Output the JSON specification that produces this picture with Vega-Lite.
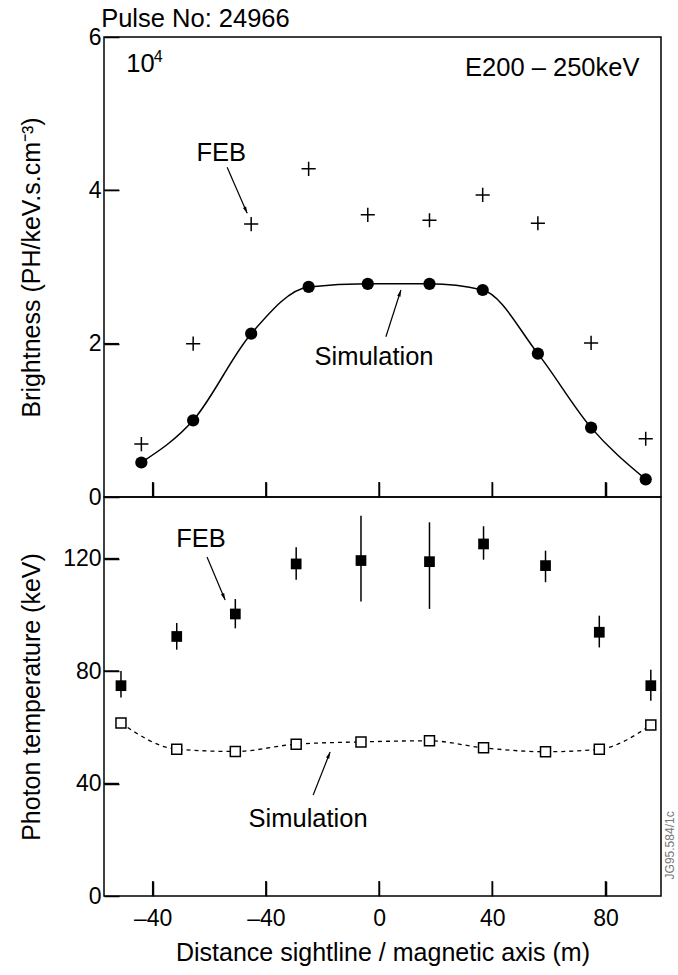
{
  "$schema": "https://vega.github.io/schema/vega-lite/v6.json",
  "background": "white",
  "padding": {"left": 18, "top": 6, "right": 4, "bottom": 4},
  "spacing": 0,
  "bounds": "flush",
  "config": {
    "font": "Liberation Sans",
    "view": {"stroke": "black", "strokeWidth": 1.5},
    "axis": {
      "labelFont": "Liberation Sans",
      "titleFont": "Liberation Sans",
      "labelFontSize": 23,
      "titleFontSize": 25,
      "titleFontWeight": "normal",
      "labelColor": "black",
      "titleColor": "black",
      "ticks": true,
      "tickColor": "black",
      "tickWidth": 1.5,
      "tickSize": 15,
      "offset": -15,
      "grid": false,
      "domain": false
    },
    "text": {"font": "Liberation Sans", "fontSize": 25.5, "color": "black"},
    "rule": {"color": "black", "strokeWidth": 1.5}
  },
  "datasets": {
    "brightness": [
      {"x": -84.0, "sim": 0.45, "feb": 0.69},
      {"x": -65.7, "sim": 1.00, "feb": 2.00},
      {"x": -45.2, "sim": 2.13, "feb": 3.56},
      {"x": -24.9, "sim": 2.74, "feb": 4.28},
      {"x": -4.0, "sim": 2.78, "feb": 3.68},
      {"x": 17.8, "sim": 2.78, "feb": 3.61},
      {"x": 36.6, "sim": 2.70, "feb": 3.94},
      {"x": 56.1, "sim": 1.87, "feb": 3.57},
      {"x": 74.9, "sim": 0.905, "feb": 2.01},
      {"x": 94.2, "sim": 0.23, "feb": 0.76}
    ],
    "temperature": [
      {"x": -91.2, "feb": 74.8, "lo": 70.6, "hi": 80.0, "sim": 61.5},
      {"x": -71.5, "feb": 92.3, "lo": 87.6, "hi": 97.1, "sim": 52.2},
      {"x": -50.8, "feb": 100.3, "lo": 95.2, "hi": 105.6, "sim": 51.4},
      {"x": -29.3, "feb": 118.1, "lo": 112.5, "hi": 124.0, "sim": 54.0},
      {"x": -6.4, "feb": 119.3, "lo": 104.7, "hi": 135.2, "sim": 54.8},
      {"x": 17.8, "feb": 118.9, "lo": 102.1, "hi": 132.9, "sim": 55.2},
      {"x": 36.9, "feb": 125.2, "lo": 119.6, "hi": 131.5, "sim": 52.7},
      {"x": 58.8, "feb": 117.5, "lo": 111.6, "hi": 122.8, "sim": 51.3},
      {"x": 77.8, "feb": 93.8, "lo": 88.4, "hi": 99.7, "sim": 52.2},
      {"x": 96.0, "feb": 74.8, "lo": 69.4, "hi": 80.5, "sim": 60.8}
    ],
    "xTicksTop": [
      {"x": -80, "lo": 0, "hi": 0.195},
      {"x": -40, "lo": 0, "hi": 0.195},
      {"x": 0, "lo": 0, "hi": 0.195},
      {"x": 40, "lo": 0, "hi": 0.195},
      {"x": 80, "lo": 0, "hi": 0.195}
    ],
    "yTicksTop": [
      {"x": -97.2, "x0": -91.9, "y": 2},
      {"x": -97.2, "x0": -91.9, "y": 4}
    ],
    "xTicksBottom": [
      {"x": -80, "lo": 0, "hi": 5.3},
      {"x": -40, "lo": 0, "hi": 5.3},
      {"x": 0, "lo": 0, "hi": 5.3},
      {"x": 40, "lo": 0, "hi": 5.3},
      {"x": 80, "lo": 0, "hi": 5.3}
    ],
    "yTicksBottom": [
      {"x": -97.2, "x0": -91.9, "y": 40},
      {"x": -97.2, "x0": -91.9, "y": 80},
      {"x": -97.2, "x0": -91.9, "y": 120}
    ]
  },
  "vconcat": [
    {
      "width": 557,
      "height": 460,
      "encoding": {
        "x": {
          "field": "x",
          "type": "quantitative",
          "scale": {"domain": [-97.2, 99.6], "nice": false, "zero": false},
          "axis": {"values": [-80, -40, 0, 40, 80], "labels": false, "title": null}
        }
      },
      "layer": [
        {
          "data": {"name": "brightness"},
          "mark": {"type": "line", "interpolate": "monotone", "color": "black", "strokeWidth": 1.5},
          "encoding": {
            "y": {"field": "sim", "type": "quantitative", "title": "Brightness (PH/keV.s.cm⁻³)", "scale": {"domain": [0, 6], "nice": false},
              "axis": {"values": [0, 2, 4, 6], "labelPadding": 3, "titleX": -75}}
          }
        },
        {
          "data": {"name": "brightness"},
          "mark": {"type": "point", "shape": "circle", "filled": true, "color": "black", "size": 150, "opacity": 1},
          "encoding": {
            "y": {"field": "sim", "type": "quantitative", "title": "Brightness (PH/keV.s.cm⁻³)", "scale": {"domain": [0, 6], "nice": false},
              "axis": {"values": [0, 2, 4, 6], "labelPadding": 3, "titleX": -75}}
          }
        },
        {
          "data": {"name": "brightness"},
          "mark": {"type": "point", "shape": "M-1,0H1M0,-1V1", "filled": false, "color": "black", "strokeWidth": 1.5, "size": 200, "opacity": 1},
          "encoding": {
            "y": {"field": "feb", "type": "quantitative", "title": "Brightness (PH/keV.s.cm⁻³)", "scale": {"domain": [0, 6], "nice": false},
              "axis": {"values": [0, 2, 4, 6], "labelPadding": 3, "titleX": -75}}
          }
        },
        {
          "data": {"values": [{"x": -98.2, "y": 6.23, "label": "Pulse No: 24966"}, {"x": -89.3, "y": 5.65, "label": "10"}]},
          "mark": {"type": "text", "align": "left", "baseline": "middle"},
          "encoding": {
            "y": {"field": "y", "type": "quantitative", "title": "Brightness (PH/keV.s.cm⁻³)", "scale": {"domain": [0, 6], "nice": false},
              "axis": {"values": [0, 2, 4, 6], "labelPadding": 3, "titleX": -75}},
            "text": {"field": "label"}
          }
        },
        {
          "data": {"values": [{"x": -79.6, "y": 5.74, "label": "4"}]},
          "mark": {"type": "text", "align": "left", "baseline": "middle", "fontSize": 16},
          "encoding": {
            "y": {"field": "y", "type": "quantitative", "title": "Brightness (PH/keV.s.cm⁻³)", "scale": {"domain": [0, 6], "nice": false},
              "axis": {"values": [0, 2, 4, 6], "labelPadding": 3, "titleX": -75}},
            "text": {"field": "label"}
          }
        },
        {
          "data": {"values": [{"x": 92.0, "y": 5.6, "label": "E200 – 250keV"}]},
          "mark": {"type": "text", "align": "right", "baseline": "middle"},
          "encoding": {
            "y": {"field": "y", "type": "quantitative", "title": "Brightness (PH/keV.s.cm⁻³)", "scale": {"domain": [0, 6], "nice": false},
              "axis": {"values": [0, 2, 4, 6], "labelPadding": 3, "titleX": -75}},
            "text": {"field": "label"}
          }
        },
        {
          "data": {"values": [{"x": -55.8, "y": 4.49, "label": "FEB"}, {"x": -1.8, "y": 1.82, "label": "Simulation"}]},
          "mark": {"type": "text", "align": "center", "baseline": "middle"},
          "encoding": {
            "y": {"field": "y", "type": "quantitative", "title": "Brightness (PH/keV.s.cm⁻³)", "scale": {"domain": [0, 6], "nice": false},
              "axis": {"values": [0, 2, 4, 6], "labelPadding": 3, "titleX": -75}},
            "text": {"field": "label"}
          }
        },
        {
          "data": {"values": [{"x": -46.6, "y": 3.70, "x0": -53.7, "y0": 4.30}, {"x": 7.7, "y": 2.70, "x0": 2.4, "y0": 2.09}]},
          "mark": {"type": "rule", "strokeWidth": 1.2},
          "encoding": {
            "x2": {"field": "x0"},
            "y": {"field": "y", "type": "quantitative", "title": "Brightness (PH/keV.s.cm⁻³)", "scale": {"domain": [0, 6], "nice": false},
              "axis": {"values": [0, 2, 4, 6], "labelPadding": 3, "titleX": -75}},
            "y2": {"field": "y0"}
          }
        },
        {
          "data": {"values": [{"x": -46.6, "y": 3.70}]},
          "mark": {"type": "point", "shape": "M0,0L-0.5,1.9L0.5,1.9Z", "filled": true, "color": "black", "size": 49, "angle": 156, "opacity": 1},
          "encoding": {
            "y": {"field": "y", "type": "quantitative", "title": "Brightness (PH/keV.s.cm⁻³)", "scale": {"domain": [0, 6], "nice": false},
              "axis": {"values": [0, 2, 4, 6], "labelPadding": 3, "titleX": -75}}
          }
        },
        {
          "data": {"values": [{"x": 7.7, "y": 2.70}]},
          "mark": {"type": "point", "shape": "M0,0L-0.5,1.9L0.5,1.9Z", "filled": true, "color": "black", "size": 49, "angle": 18, "opacity": 1},
          "encoding": {
            "y": {"field": "y", "type": "quantitative", "title": "Brightness (PH/keV.s.cm⁻³)", "scale": {"domain": [0, 6], "nice": false},
              "axis": {"values": [0, 2, 4, 6], "labelPadding": 3, "titleX": -75}}
          }
        },
        {
          "data": {"name": "xTicksTop"},
          "mark": {"type": "rule", "strokeWidth": 1.5},
          "encoding": {
            "y": {"field": "lo", "type": "quantitative", "title": "Brightness (PH/keV.s.cm⁻³)", "scale": {"domain": [0, 6], "nice": false},
              "axis": {"values": [0, 2, 4, 6], "labelPadding": 3, "titleX": -75}},
            "y2": {"field": "hi"}
          }
        },
        {
          "data": {"name": "yTicksTop"},
          "mark": {"type": "rule", "strokeWidth": 1.5},
          "encoding": {
            "x2": {"field": "x0"},
            "y": {"field": "y", "type": "quantitative", "title": "Brightness (PH/keV.s.cm⁻³)", "scale": {"domain": [0, 6], "nice": false},
              "axis": {"values": [0, 2, 4, 6], "labelPadding": 3, "titleX": -75}}
          }
        }
      ]
    },
    {
      "width": 557,
      "height": 399,
      "encoding": {
        "x": {
          "field": "x",
          "type": "quantitative",
          "scale": {"domain": [-97.2, 99.6], "nice": false, "zero": false},
          "axis": {
            "values": [-80, -40, 0, 40, 80],
            "labelExpr": "datum.value === -80 ? '–40' : datum.value < 0 ? '–' + abs(datum.value) : datum.label",
            "labelPadding": 11,
            "title": "Distance sightline / magnetic axis (m)",
            "titlePadding": 10
          }
        }
      },
      "layer": [
        {
          "data": {"name": "temperature"},
          "mark": {"type": "rule", "strokeWidth": 1.5},
          "encoding": {
            "y": {"field": "lo", "type": "quantitative", "title": "Photon temperature (keV)", "scale": {"domain": [0, 141.9], "nice": false},
              "axis": {"values": [0, 40, 80, 120], "labelPadding": 3, "titleX": -75}},
            "y2": {"field": "hi"}
          }
        },
        {
          "data": {"name": "temperature"},
          "mark": {"type": "point", "shape": "square", "filled": true, "color": "black", "size": 115, "opacity": 1},
          "encoding": {
            "y": {"field": "feb", "type": "quantitative", "title": "Photon temperature (keV)", "scale": {"domain": [0, 141.9], "nice": false},
              "axis": {"values": [0, 40, 80, 120], "labelPadding": 3, "titleX": -75}}
          }
        },
        {
          "data": {"name": "temperature"},
          "mark": {"type": "line", "interpolate": "monotone", "color": "black", "strokeWidth": 1.3, "strokeDash": [4, 4]},
          "encoding": {
            "y": {"field": "sim", "type": "quantitative", "title": "Photon temperature (keV)", "scale": {"domain": [0, 141.9], "nice": false},
              "axis": {"values": [0, 40, 80, 120], "labelPadding": 3, "titleX": -75}}
          }
        },
        {
          "data": {"name": "temperature"},
          "mark": {"type": "point", "shape": "square", "filled": false, "fill": "white", "stroke": "black", "strokeWidth": 1.5, "size": 100, "opacity": 1, "fillOpacity": 1},
          "encoding": {
            "y": {"field": "sim", "type": "quantitative", "title": "Photon temperature (keV)", "scale": {"domain": [0, 141.9], "nice": false},
              "axis": {"values": [0, 40, 80, 120], "labelPadding": 3, "titleX": -75}}
          }
        },
        {
          "data": {"values": [{"x": -62.9, "y": 127.0, "label": "FEB"}, {"x": -25.1, "y": 27.3, "label": "Simulation"}]},
          "mark": {"type": "text", "align": "center", "baseline": "middle"},
          "encoding": {
            "y": {"field": "y", "type": "quantitative", "title": "Photon temperature (keV)", "scale": {"domain": [0, 141.9], "nice": false},
              "axis": {"values": [0, 40, 80, 120], "labelPadding": 3, "titleX": -75}},
            "text": {"field": "label"}
          }
        },
        {
          "data": {"values": [{"x": 102.8, "y": 18, "label": "JG95.584/1c"}]},
          "mark": {"type": "text", "align": "center", "baseline": "middle", "angle": 270, "fontSize": 12, "color": "#777777"},
          "encoding": {
            "y": {"field": "y", "type": "quantitative", "title": "Photon temperature (keV)", "scale": {"domain": [0, 141.9], "nice": false},
              "axis": {"values": [0, 40, 80, 120], "labelPadding": 3, "titleX": -75}},
            "text": {"field": "label"}
          }
        },
        {
          "data": {"values": [{"x": -54.4, "y": 105.3, "x0": -60.8, "y0": 120.6}, {"x": -17.3, "y": 51.2, "x0": -23.3, "y0": 35.9}]},
          "mark": {"type": "rule", "strokeWidth": 1.2},
          "encoding": {
            "x2": {"field": "x0"},
            "y": {"field": "y", "type": "quantitative", "title": "Photon temperature (keV)", "scale": {"domain": [0, 141.9], "nice": false},
              "axis": {"values": [0, 40, 80, 120], "labelPadding": 3, "titleX": -75}},
            "y2": {"field": "y0"}
          }
        },
        {
          "data": {"values": [{"x": -54.4, "y": 105.3}]},
          "mark": {"type": "point", "shape": "M0,0L-0.5,1.9L0.5,1.9Z", "filled": true, "color": "black", "size": 49, "angle": 157, "opacity": 1},
          "encoding": {
            "y": {"field": "y", "type": "quantitative", "title": "Photon temperature (keV)", "scale": {"domain": [0, 141.9], "nice": false},
              "axis": {"values": [0, 40, 80, 120], "labelPadding": 3, "titleX": -75}}
          }
        },
        {
          "data": {"values": [{"x": -17.3, "y": 51.2}]},
          "mark": {"type": "point", "shape": "M0,0L-0.5,1.9L0.5,1.9Z", "filled": true, "color": "black", "size": 49, "angle": 22, "opacity": 1},
          "encoding": {
            "y": {"field": "y", "type": "quantitative", "title": "Photon temperature (keV)", "scale": {"domain": [0, 141.9], "nice": false},
              "axis": {"values": [0, 40, 80, 120], "labelPadding": 3, "titleX": -75}}
          }
        },
        {
          "data": {"name": "xTicksBottom"},
          "mark": {"type": "rule", "strokeWidth": 1.5},
          "encoding": {
            "y": {"field": "lo", "type": "quantitative", "title": "Photon temperature (keV)", "scale": {"domain": [0, 141.9], "nice": false},
              "axis": {"values": [0, 40, 80, 120], "labelPadding": 3, "titleX": -75}},
            "y2": {"field": "hi"}
          }
        },
        {
          "data": {"name": "yTicksBottom"},
          "mark": {"type": "rule", "strokeWidth": 1.5},
          "encoding": {
            "x2": {"field": "x0"},
            "y": {"field": "y", "type": "quantitative", "title": "Photon temperature (keV)", "scale": {"domain": [0, 141.9], "nice": false},
              "axis": {"values": [0, 40, 80, 120], "labelPadding": 3, "titleX": -75}}
          }
        }
      ]
    }
  ]
}
